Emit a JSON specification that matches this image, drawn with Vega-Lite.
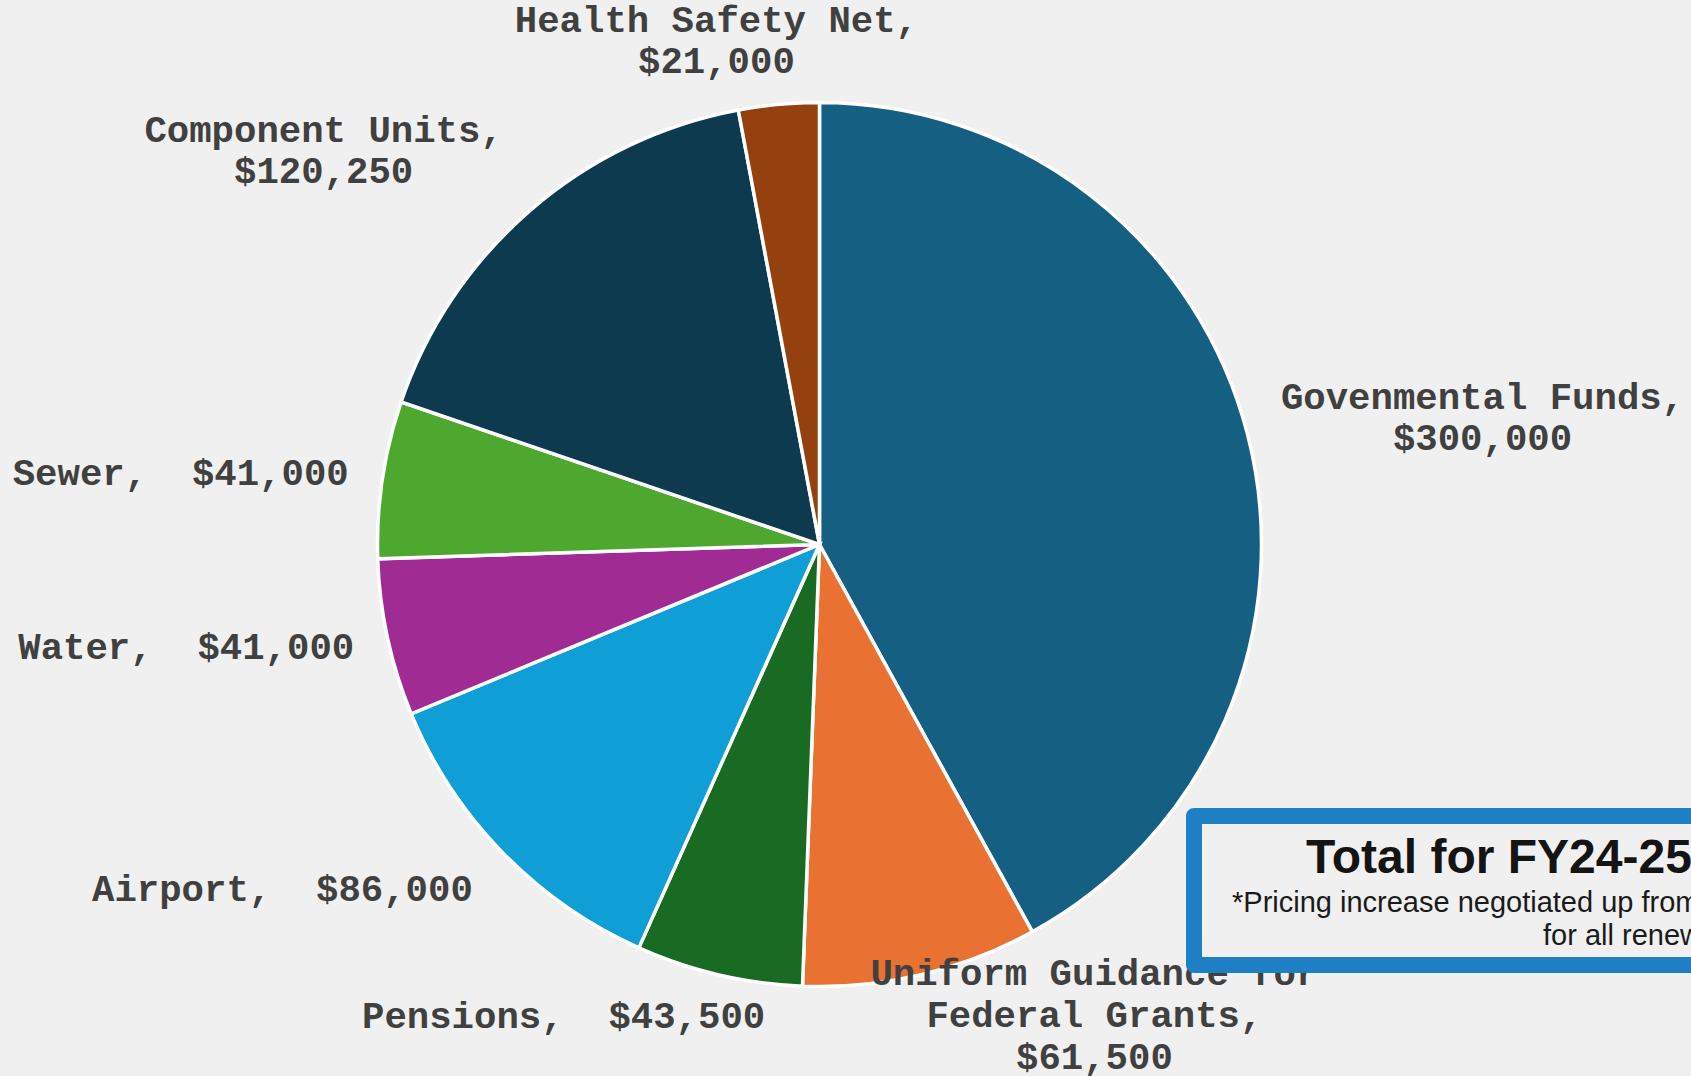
{
  "$schema": "https://vega.github.io/schema/vega-lite/v6.json",
  "width": 1639,
  "height": 1061,
  "autosize": {"type": "none"},
  "padding": {"left": 0, "top": 14, "right": 52, "bottom": 1},
  "background": "#f0f0f0",
  "config": {"view": {"stroke": null}},
  "data": {
    "values": [
      {"category": "Govenmental Funds", "value": 300000, "label": "Govenmental Funds,\n$300,000"},
      {"category": "Uniform Guidance for Federal Grants", "value": 61500, "label": "Uniform Guidance for\nFederal Grants,\n$61,500"},
      {"category": "Pensions", "value": 43500, "label": "Pensions, \u00a0$43,500"},
      {"category": "Airport", "value": 86000, "label": "Airport, \u00a0$86,000"},
      {"category": "Water", "value": 41000, "label": "Water, \u00a0$41,000"},
      {"category": "Sewer", "value": 41000, "label": "Sewer, \u00a0$41,000"},
      {"category": "Component Units", "value": 120250, "label": "Component Units,\n$120,250"},
      {"category": "Health Safety Net", "value": 21000, "label": "Health Safety Net,\n$21,000"}
    ]
  },
  "transform": [{"window": [{"op": "row_number", "as": "rank"}]}],
  "layer": [
    {
      "mark": {"type": "arc", "outerRadius": 442, "stroke": "#ffffff", "strokeWidth": 3.5},
      "encoding": {
        "theta": {"field": "value", "type": "quantitative", "stack": true},
        "order": {"field": "rank", "type": "quantitative"},
        "color": {
          "field": "category", "type": "nominal", "legend": null,
          "scale": {
            "domain": ["Govenmental Funds", "Uniform Guidance for Federal Grants", "Pensions", "Airport", "Water", "Sewer", "Component Units", "Health Safety Net"],
            "range": ["#156082", "#e97132", "#196b24", "#0f9ed5", "#a02b93", "#4ea72e", "#0e3a50", "#94400f"]
          }
        }
      }
    },
    {
      "mark": {"type": "text", "radius": 478, "font": "Liberation Mono", "fontSize": 37.33, "fontWeight": "bold", "color": "#404040", "align": "center", "baseline": "middle", "lineBreak": "\n", "lineHeight": 41, "dx": 200, "dy": -28},
      "encoding": {
        "theta": {"field": "value", "type": "quantitative", "stack": true},
        "order": {"field": "rank", "type": "quantitative"},
        "detail": {"field": "category", "type": "nominal"},
        "text": {"condition": {"test": "datum.category === 'Govenmental Funds'", "field": "label"}, "value": ""}
      }
    },
    {
      "mark": {"type": "text", "radius": 478, "font": "Liberation Mono", "fontSize": 37.33, "fontWeight": "bold", "color": "#404040", "align": "center", "baseline": "middle", "lineBreak": "\n", "lineHeight": 42, "dx": 165, "dy": -36},
      "encoding": {
        "theta": {"field": "value", "type": "quantitative", "stack": true},
        "order": {"field": "rank", "type": "quantitative"},
        "detail": {"field": "category", "type": "nominal"},
        "text": {"condition": {"test": "datum.category === 'Uniform Guidance for Federal Grants'", "field": "label"}, "value": ""}
      }
    },
    {
      "mark": {"type": "text", "radius": 478, "font": "Liberation Mono", "fontSize": 37.33, "fontWeight": "bold", "color": "#404040", "align": "center", "baseline": "middle", "lineBreak": "\n", "lineHeight": 41, "dx": -147, "dy": 7},
      "encoding": {
        "theta": {"field": "value", "type": "quantitative", "stack": true},
        "order": {"field": "rank", "type": "quantitative"},
        "detail": {"field": "category", "type": "nominal"},
        "text": {"condition": {"test": "datum.category === 'Pensions'", "field": "label"}, "value": ""}
      }
    },
    {
      "mark": {"type": "text", "radius": 478, "font": "Liberation Mono", "fontSize": 37.33, "fontWeight": "bold", "color": "#404040", "align": "right", "baseline": "middle", "lineBreak": "\n", "lineHeight": 41, "dx": -4, "dy": 12},
      "encoding": {
        "theta": {"field": "value", "type": "quantitative", "stack": true},
        "order": {"field": "rank", "type": "quantitative"},
        "detail": {"field": "category", "type": "nominal"},
        "text": {"condition": {"test": "datum.category === 'Airport'", "field": "label"}, "value": ""}
      }
    },
    {
      "mark": {"type": "text", "radius": 478, "font": "Liberation Mono", "fontSize": 37.33, "fontWeight": "bold", "color": "#404040", "align": "right", "baseline": "middle", "lineBreak": "\n", "lineHeight": 41, "dx": 2, "dy": 3},
      "encoding": {
        "theta": {"field": "value", "type": "quantitative", "stack": true},
        "order": {"field": "rank", "type": "quantitative"},
        "detail": {"field": "category", "type": "nominal"},
        "text": {"condition": {"test": "datum.category === 'Water'", "field": "label"}, "value": ""}
      }
    },
    {
      "mark": {"type": "text", "radius": 478, "font": "Liberation Mono", "fontSize": 37.33, "fontWeight": "bold", "color": "#404040", "align": "right", "baseline": "middle", "lineBreak": "\n", "lineHeight": 41, "dx": 2},
      "encoding": {
        "theta": {"field": "value", "type": "quantitative", "stack": true},
        "order": {"field": "rank", "type": "quantitative"},
        "detail": {"field": "category", "type": "nominal"},
        "text": {"condition": {"test": "datum.category === 'Sewer'", "field": "label"}, "value": ""}
      }
    },
    {
      "mark": {"type": "text", "radius": 478, "font": "Liberation Mono", "fontSize": 37.33, "fontWeight": "bold", "color": "#404040", "align": "center", "baseline": "middle", "lineBreak": "\n", "lineHeight": 41, "dx": -183, "dy": -52},
      "encoding": {
        "theta": {"field": "value", "type": "quantitative", "stack": true},
        "order": {"field": "rank", "type": "quantitative"},
        "detail": {"field": "category", "type": "nominal"},
        "text": {"condition": {"test": "datum.category === 'Component Units'", "field": "label"}, "value": ""}
      }
    },
    {
      "mark": {"type": "text", "radius": 478, "font": "Liberation Mono", "fontSize": 37.33, "fontWeight": "bold", "color": "#404040", "align": "center", "baseline": "middle", "lineBreak": "\n", "lineHeight": 41, "dx": -59, "dy": -48},
      "encoding": {
        "theta": {"field": "value", "type": "quantitative", "stack": true},
        "order": {"field": "rank", "type": "quantitative"},
        "detail": {"field": "category", "type": "nominal"},
        "text": {"condition": {"test": "datum.category === 'Health Safety Net'", "field": "label"}, "value": ""}
      }
    },
    {
      "data": {"values": [{"note": "box"}]},
      "mark": {"type": "rect", "fill": "#f0f0f0", "stroke": "#1f7fc4", "strokeWidth": 16, "strokeJoin": "round"},
      "encoding": {
        "x": {"value": 1194},
        "x2": {"value": 1900},
        "y": {"value": 802},
        "y2": {"value": 951}
      }
    },
    {
      "data": {"values": [{"line": "Total for FY24-25"}]},
      "mark": {"type": "text", "font": "Liberation Sans", "fontSize": 48, "fontWeight": "bold", "color": "#141414", "align": "left", "baseline": "alphabetic"},
      "encoding": {
        "x": {"value": 1306},
        "y": {"value": 859},
        "text": {"field": "line"}
      }
    },
    {
      "data": {"values": [{"line": "*Pricing increase negotiated up from"}]},
      "mark": {"type": "text", "font": "Liberation Sans", "fontSize": 29, "color": "#1a1a1a", "align": "left", "baseline": "alphabetic"},
      "encoding": {
        "x": {"value": 1232},
        "y": {"value": 898},
        "text": {"field": "line"}
      }
    },
    {
      "data": {"values": [{"line": "for all renewals"}]},
      "mark": {"type": "text", "font": "Liberation Sans", "fontSize": 29, "color": "#1a1a1a", "align": "left", "baseline": "alphabetic"},
      "encoding": {
        "x": {"value": 1543},
        "y": {"value": 931},
        "text": {"field": "line"}
      }
    }
  ]
}
